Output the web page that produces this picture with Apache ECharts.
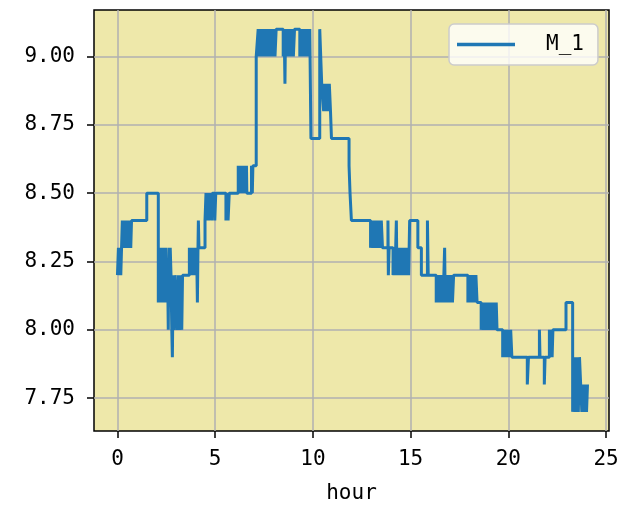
<!DOCTYPE html>
<html>
<head>
<meta charset="utf-8">
<script src="https://cdn.jsdelivr.net/npm/echarts@6/dist/echarts.min.js"></script>
<style>
  html, body { margin: 0; padding: 0; background: #fff; }
  #chart { width: 629px; height: 520px; }
</style>
</head>
<body>
<div id="chart"></div>
<script>
const seriesName = 'M_1'
const xTicks = [0, 5, 10, 15, 20, 25]
const yTicks = [7.75, 8.0, 8.25, 8.5, 8.75, 9.0]

// change points [hour, value]; value holds until the next point
const m1 = [
  [0.00, 8.2], [0.05, 8.3], [0.09, 8.2], [0.13, 8.3], [0.17, 8.2], [0.21, 8.3],
  [0.25, 8.4], [0.29, 8.3], [0.33, 8.4], [0.38, 8.3], [0.43, 8.4], [0.48, 8.3],
  [0.53, 8.4], [0.58, 8.3], [0.63, 8.4], [0.68, 8.3], [0.72, 8.4],
  [1.50, 8.5],
  [2.09, 8.1], [2.14, 8.3], [2.19, 8.1], [2.24, 8.3], [2.29, 8.1], [2.34, 8.3],
  [2.40, 8.1], [2.46, 8.3], [2.52, 8.1],
  [2.57, 8.2], [2.60, 8.0], [2.63, 8.3], [2.66, 8.1], [2.70, 8.3], [2.74, 8.2],
  [2.78, 8.0], [2.81, 7.9], [2.85, 8.2], [2.90, 8.0], [2.95, 8.2], [3.00, 8.1],
  [3.06, 8.0], [3.12, 8.2], [3.18, 8.0], [3.24, 8.2], [3.29, 8.0], [3.33, 8.2],
  [3.68, 8.3], [3.72, 8.2], [3.76, 8.3], [3.80, 8.2], [3.85, 8.3], [3.90, 8.2],
  [3.95, 8.3], [4.00, 8.2], [4.05, 8.3], [4.09, 8.1], [4.12, 8.3], [4.14, 8.4],
  [4.17, 8.3],
  [4.48, 8.4], [4.53, 8.5], [4.57, 8.4], [4.62, 8.5], [4.66, 8.4], [4.72, 8.5],
  [4.82, 8.4], [4.86, 8.5], [4.98, 8.4], [5.03, 8.5], [5.55, 8.4], [5.60, 8.5],
  [5.66, 8.4], [5.72, 8.5],
  [6.18, 8.6], [6.22, 8.5], [6.27, 8.6], [6.32, 8.5], [6.38, 8.6], [6.43, 8.5],
  [6.50, 8.6], [6.55, 8.5], [6.60, 8.6], [6.62, 8.5],
  [6.86, 8.6], [6.90, 8.5], [6.93, 8.6],
  [7.10, 9.0], [7.20, 9.1], [7.25, 9.0], [7.30, 9.1], [7.36, 9.0], [7.42, 9.1],
  [7.47, 9.0], [7.52, 9.1], [7.58, 9.0], [7.64, 9.1], [7.70, 9.0], [7.76, 9.1],
  [7.82, 9.0], [7.88, 9.1], [7.94, 9.0], [8.00, 9.1], [8.06, 9.0], [8.12, 9.1],
  [8.48, 9.0], [8.53, 9.1], [8.57, 8.9], [8.60, 9.1], [8.65, 9.0], [8.70, 9.1],
  [8.76, 9.0], [8.82, 9.1], [8.88, 9.0], [8.94, 9.1], [9.00, 9.0], [9.06, 9.1],
  [9.33, 9.0], [9.38, 9.1], [9.44, 9.0], [9.50, 9.1], [9.56, 9.0], [9.62, 9.1],
  [9.67, 9.0], [9.72, 9.1], [9.78, 9.0], [9.84, 9.1], [9.90, 8.7],
  [10.35, 9.1], [10.45, 8.9], [10.55, 8.8], [10.60, 8.9], [10.66, 8.8],
  [10.72, 8.9], [10.78, 8.8], [10.84, 8.9], [10.90, 8.8], [10.95, 8.7],
  [11.85, 8.6], [11.90, 8.5], [11.97, 8.4],
  [12.95, 8.3], [13.00, 8.4], [13.06, 8.3], [13.12, 8.4], [13.18, 8.3],
  [13.24, 8.4], [13.30, 8.3], [13.36, 8.4], [13.42, 8.3], [13.50, 8.4],
  [13.56, 8.3],
  [13.84, 8.4], [13.86, 8.2], [13.90, 8.3], [14.10, 8.2], [14.15, 8.3],
  [14.20, 8.2], [14.27, 8.4], [14.30, 8.2], [14.36, 8.3], [14.42, 8.2],
  [14.48, 8.3], [14.54, 8.2], [14.60, 8.3], [14.66, 8.2], [14.72, 8.3],
  [14.78, 8.2], [14.84, 8.3], [14.90, 8.2], [14.95, 8.4],
  [15.37, 8.3], [15.55, 8.2], [15.86, 8.4], [15.90, 8.2],
  [16.31, 8.1], [16.36, 8.2], [16.42, 8.1], [16.48, 8.2], [16.54, 8.1],
  [16.60, 8.2], [16.66, 8.1], [16.74, 8.3], [16.77, 8.1], [16.84, 8.2],
  [16.90, 8.1], [16.96, 8.2], [17.02, 8.1], [17.08, 8.2], [17.14, 8.1],
  [17.20, 8.2],
  [17.93, 8.1], [17.98, 8.2], [18.04, 8.1], [18.10, 8.2], [18.16, 8.1],
  [18.22, 8.2], [18.28, 8.1], [18.34, 8.2], [18.40, 8.1],
  [18.61, 8.0], [18.66, 8.1], [18.72, 8.0], [18.78, 8.1], [18.84, 8.0],
  [18.90, 8.1], [18.96, 8.0], [19.02, 8.1], [19.08, 8.0], [19.14, 8.1],
  [19.20, 8.0], [19.26, 8.1], [19.29, 8.0], [19.38, 8.1], [19.42, 8.0],
  [19.71, 7.9], [19.76, 8.0], [19.82, 7.9], [19.88, 8.0], [19.94, 7.9],
  [20.00, 8.0], [20.06, 7.9], [20.12, 8.0], [20.18, 7.9],
  [20.97, 7.8], [21.03, 7.9], [21.59, 8.0], [21.62, 7.9], [21.84, 7.8],
  [21.88, 7.9], [22.10, 8.0], [22.14, 7.9], [22.20, 8.0], [22.24, 7.9],
  [22.28, 8.0],
  [22.95, 8.1], [23.29, 7.7], [23.33, 7.9], [23.38, 7.7], [23.43, 7.9],
  [23.48, 7.7], [23.53, 7.9], [23.58, 7.7], [23.64, 7.9], [23.70, 7.8],
  [23.76, 7.7], [23.82, 7.8], [23.88, 7.7], [23.94, 7.8], [24.00, 7.7],
  [24.05, 7.8]
]

const font = 'DejaVu Sans Mono'
const chart = echarts.init(document.getElementById('chart'), null, { renderer: 'canvas' })

chart.setOption({
  backgroundColor: '#ffffff',
  animation: false,
  textStyle: { fontFamily: font, color: '#000' },
  grid: {
    left: 94,
    top: 10,
    right: 20,
    bottom: 89,
    show: true,
    backgroundColor: '#EEE8AA',
    borderColor: '#000',
    borderWidth: 1.5,
    z: 0,
  },
  legend: {
    left: 449,
    top: 24,
    icon: 'rect',
    backgroundColor: 'rgba(255,255,255,0.8)',
    borderColor: '#cccccc',
    borderWidth: 1.5,
    borderRadius: 5,
    padding: [10, 14, 10, 8],
    itemWidth: 58,
    itemHeight: 3.5,
    textStyle: { fontFamily: font, fontSize: 21, color: '#000', padding: [0, 0, 0, 26] },
    data: [seriesName],
  },
  xAxis: {
    type: 'value',
    min: -1.2,
    max: 25.15,
    name: 'hour',
    nameLocation: 'middle',
    nameGap: 52,
    nameTextStyle: { fontFamily: font, fontSize: 21, color: '#000' },
    axisLine: { show: false, onZero: false },
    axisTick: {
      show: true,
      length: 7,
      customValues: xTicks,
      lineStyle: { color: '#000', width: 1.5 },
    },
    axisLabel: {
      customValues: xTicks,
      fontFamily: font,
      fontSize: 21,
      color: '#000',
      margin: 18,
    },
    splitLine: { show: true, lineStyle: { color: '#b0b0b0', width: 1.5 } },
  },
  yAxis: {
    type: 'value',
    min: 7.63,
    max: 9.17,
    axisLine: { show: false, onZero: false },
    axisTick: {
      show: true,
      length: 7,
      customValues: yTicks,
      lineStyle: { color: '#000', width: 1.5 },
    },
    axisLabel: {
      customValues: yTicks,
      fontFamily: font,
      fontSize: 21,
      color: '#000',
      margin: 19,
      formatter: v => v.toFixed(2),
    },
    splitLine: { show: true, lineStyle: { color: '#b0b0b0', width: 1.5 } },
  },
  series: [
    {
      name: seriesName,
      type: 'line',
      step: 'end',
      symbol: 'none',
      data: m1,
      lineStyle: { color: '#1f77b4', width: 3 },
      itemStyle: { color: '#1f77b4' },
    },
  ],
})
</script>
</body>
</html>
